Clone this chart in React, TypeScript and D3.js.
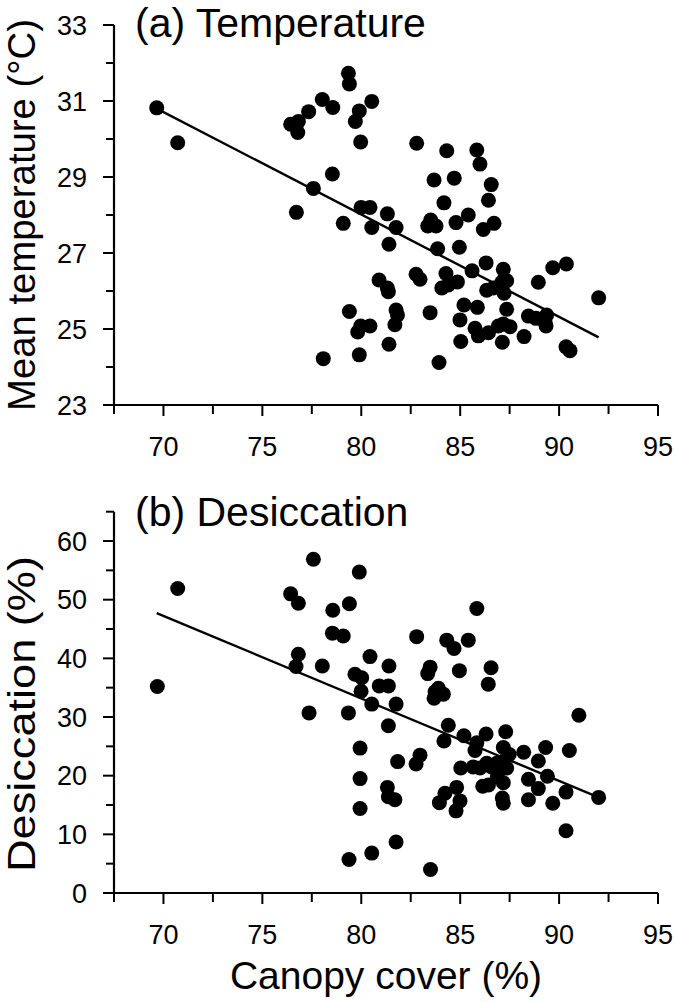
import React from "react";
import * as d3 from "d3";

// Panel (a) Temperature: canopy cover (%) vs mean temperature (°C)
const tempCanopy = [69.66,70.72,76.43,76.82,76.79,77.34,78.03,78.56,79.35,79.40,79.90,79.70,80.53,79.97,78.54,77.58,76.72,79.09,79.99,80.44,80.53,82.80,84.32,85.84,86.00,83.68,84.70,86.57,84.18,86.43,81.32,81.76,83.51,83.36,83.78,84.79,85.41,86.17,86.71,81.40,83.86,84.96,86.31,85.60,87.18,87.22,89.68,90.37,88.95,92.00,80.90,81.32,81.37,82.77,82.97,84.28,84.07,84.40,84.86,86.34,86.68,87.10,87.35,87.22,81.76,81.83,81.70,80.44,79.97,79.82,79.90,81.40,83.48,85.19,85.87,84.99,85.75,85.92,86.43,85.03,83.93,87.35,87.18,87.52,86.93,87.13,88.23,88.45,88.83,89.29,89.37,89.34,90.35,90.55,79.40,78.08];
const tempValues = [30.82,29.90,30.39,30.46,30.17,30.72,31.04,30.83,31.73,31.45,30.74,30.46,30.99,29.92,29.08,28.70,28.07,27.78,28.20,28.20,27.67,29.89,29.69,29.71,29.34,28.92,28.97,28.80,28.32,28.39,28.03,27.67,27.87,27.71,27.71,27.80,28.00,27.62,27.78,27.23,27.11,27.15,26.74,26.53,26.57,26.30,26.61,26.71,26.23,25.82,26.29,26.08,25.98,26.44,26.31,26.46,26.08,26.16,26.24,26.02,26.08,26.22,26.27,25.94,25.50,25.37,25.11,25.08,25.08,24.92,24.32,24.60,25.43,25.63,25.57,25.24,25.02,24.82,24.90,24.67,24.12,25.52,25.13,25.06,25.08,24.65,24.80,25.34,25.28,25.19,25.37,25.08,24.53,24.43,25.46,24.22];
const tempFitX = [69.66, 92.0];
const tempFitY = [30.80, 24.78];

// Panel (b) Desiccation: canopy cover (%) vs desiccation (%)
const desCanopy = [69.69,70.72,76.43,76.82,76.82,76.70,77.36,77.58,78.03,78.54,78.56,79.09,79.35,79.40,79.90,79.68,80.02,79.99,80.44,80.91,81.37,80.53,81.40,81.76,81.37,82.80,84.32,84.69,85.41,85.84,83.48,83.36,84.96,86.56,86.42,83.73,83.90,84.15,83.68,84.40,84.18,85.19,86.31,87.30,85.84,85.75,91.00,89.32,90.52,79.94,87.18,87.48,88.21,88.95,89.41,88.45,88.95,90.35,92.00,81.84,82.97,82.77,85.03,85.66,86.00,86.34,86.59,86.85,87.18,87.35,86.88,87.18,86.43,86.14,87.13,87.18,88.45,89.68,90.35,79.94,79.94,81.32,81.37,81.70,84.23,84.82,83.95,84.99,84.79,81.76,80.53,79.38,83.50];
const desValues = [35.2,51.9,51.0,49.4,40.7,38.6,30.7,56.9,38.7,44.3,48.2,43.8,30.7,49.3,54.7,37.3,36.7,34.4,40.3,35.3,35.3,32.2,38.7,32.2,28.5,43.7,43.1,41.7,43.1,48.5,38.5,37.4,37.9,38.4,35.6,34.3,34.9,33.9,33.2,28.6,25.9,26.8,27.1,27.5,25.6,24.3,30.3,24.8,24.3,24.7,24.8,23.6,24.0,22.5,19.9,19.4,17.8,17.2,16.3,22.4,23.5,22.0,21.3,21.5,21.3,22.1,21.5,22.1,22.4,21.3,19.8,18.8,18.4,18.2,16.2,15.3,15.9,15.3,10.6,19.5,14.4,18.0,16.4,15.9,17.0,18.0,15.4,15.7,14.0,8.7,6.8,5.7,4.0];
const desFitX = [69.66, 92.0];
const desFitY = [47.7, 16.3];

const xTickValues = [67.5, 70, 72.5, 75, 77.5, 80, 82.5, 85, 87.5, 90, 92.5, 95];
const xTickLabels = ["70", "75", "80", "85", "90", "95"];
const tempTickValues = [23, 24, 25, 26, 27, 28, 29, 30, 31, 32, 33];
const tempTickLabels = ["23", "25", "27", "29", "31", "33"];
const desTickValues = [0, 5, 10, 15, 20, 25, 30, 35, 40, 45, 50, 55, 60, 65];
const desTickLabels = ["0", "10", "20", "30", "40", "50", "60"];

const FONT = "'Liberation Sans', Arial, Helvetica, sans-serif";

type PanelProps = {
  xs: number[];
  ys: number[];
  fitX: number[];
  fitY: number[];
  yDomain: [number, number];
  yRange: [number, number];
  yTicks: number[];
  yLabels: string[];
  title: string;
  titleY: number;
  yTitle: string;
  yTitleCenter: number;
  yTitleSize: number;
  yTitleLen: number;
  xLabelY: number;
};

function Panel(p: PanelProps) {
  const x = d3.scaleLinear().domain([67.5, 95]).range([114, 658]);
  const y = d3.scaleLinear().domain(p.yDomain).range(p.yRange);
  const labelSet = new Set(p.yLabels);
  const xLabelSet = new Set(xTickLabels);
  const axisY = y(p.yDomain[0]);
  const line = d3
    .line<number>()
    .x((d) => x(d))
    .y((_, i) => y(p.fitY[i]));
  return (
    <g>
      {/* axes */}
      <line x1={114} x2={114} y1={y(p.yDomain[1])} y2={axisY} stroke="#000" strokeWidth={2.2} />
      <line x1={113} x2={658} y1={axisY} y2={axisY} stroke="#000" strokeWidth={2.2} />
      {p.yTicks.map((t) => {
        const major = labelSet.has(String(t));
        return (
          <g key={"y" + t}>
            <line x1={major ? 103 : 106} x2={114} y1={y(t)} y2={y(t)} stroke="#000" strokeWidth={2} />
            {major && (
              <text x={87} y={y(t)} dy="0.36em" textAnchor="end" fontSize={27} fontFamily={FONT}>
                {t}
              </text>
            )}
          </g>
        );
      })}
      {xTickValues.map((t) => {
        const major = xLabelSet.has(String(t));
        return (
          <g key={"x" + t}>
            <line x1={x(t)} x2={x(t)} y1={axisY} y2={axisY + (major ? 11 : 9)} stroke="#000" strokeWidth={2} />
            {major && (
              <text x={x(t)} y={p.xLabelY} textAnchor="middle" fontSize={27} fontFamily={FONT}>
                {t}
              </text>
            )}
          </g>
        );
      })}
      {/* regression line */}
      <path d={line(p.fitX) || ""} fill="none" stroke="#000" strokeWidth={2.4} />
      {/* points */}
      {p.xs.map((v, i) => (
        <circle key={i} cx={x(v)} cy={y(p.ys[i])} r={7.5} fill="#000" />
      ))}
      {/* titles */}
      <text x={135} y={p.titleY} fontSize={41} fontFamily={FONT}>
        {p.title}
      </text>
      <text
        transform={`translate(35,${p.yTitleCenter}) rotate(-90)`}
        textAnchor="middle"
        fontSize={p.yTitleSize}
        fontFamily={FONT}
        textLength={p.yTitleLen}
        lengthAdjust="spacingAndGlyphs"
      >
        {p.yTitle}
      </text>
    </g>
  );
}

export default function App() {
  return (
    <div style={{ position: "absolute", left: 0, top: 0 }}>
      <svg width={675} height={1002} style={{ display: "block", background: "#fff" }}>
        <Panel
          xs={tempCanopy}
          ys={tempValues}
          fitX={tempFitX}
          fitY={tempFitY}
          yDomain={[23, 33]}
          yRange={[405, 25]}
          yTicks={tempTickValues}
          yLabels={tempTickLabels}
          title="(a) Temperature"
          titleY={37}
          yTitle="Mean temperature (°C)"
          yTitleCenter={215}
          yTitleSize={38}
          yTitleLen={392}
          xLabelY={456}
        />
        <Panel
          xs={desCanopy}
          ys={desValues}
          fitX={desFitX}
          fitY={desFitY}
          yDomain={[0, 65]}
          yRange={[893, 511.7]}
          yTicks={desTickValues}
          yLabels={desTickLabels}
          title="(b) Desiccation"
          titleY={526}
          yTitle="Desiccation (%)"
          yTitleCenter={714}
          yTitleSize={38}
          yTitleLen={316}
          xLabelY={944}
        />
        <text x={386} y={989} textAnchor="middle" fontSize={39} fontFamily={FONT}>
          Canopy cover (%)
        </text>
      </svg>
    </div>
  );
}
